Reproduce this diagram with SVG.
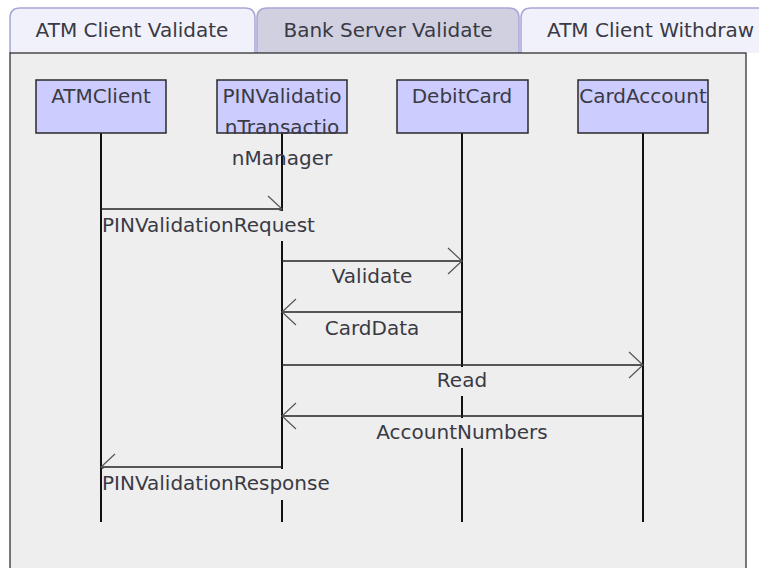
<svg xmlns="http://www.w3.org/2000/svg" width="759" height="568" viewBox="0 0 759 568">
<defs>
<style>
text{font-family:"DejaVu Sans",Verdana,sans-serif;font-size:20px;fill:#3a3a44}
.tab{stroke:#a6a6d6;stroke-width:1.5}
.box{fill:#ccccff;stroke:#2a2a2a;stroke-width:1.5}
.life{stroke:#111;stroke-width:2;fill:none}
.msg{stroke:#222;stroke-width:1.5;fill:none;marker-end:url(#arr)}
.lbg{fill:#eeeeee}
</style>
<marker id="arr" markerUnits="userSpaceOnUse" markerWidth="16" markerHeight="30" viewBox="-15 -15 16 30" refX="0" refY="0" orient="auto">
<path d="M-14,-13 L0,0 L-14,13" fill="none" stroke="#555" stroke-width="1.2"/>
</marker>
</defs>
<rect width="759" height="568" fill="#ffffff"/>
<g id="tabs">
<path class="tab" d="M10,53 V18 Q10,8 20,8 H245 Q255,8 255,18 V53" fill="#f1f1fb"/>
<path class="tab" d="M257,53 V18 Q257,8 267,8 H509 Q519,8 519,18 V53" fill="#d0d0e0"/>
<path class="tab" d="M521,53 V18 Q521,8 531,8 H770 V53" fill="#f1f1fb"/>
<text x="132" y="37" text-anchor="middle">ATM Client Validate</text>
<text x="388" y="37" text-anchor="middle">Bank Server Validate</text>
<text x="547" y="37">ATM Client Withdraw</text>
</g>
<rect id="panel" x="10" y="53" width="736" height="530" fill="#eeeeee" stroke="#222" stroke-width="1.2"/>
<g id="lifelines">
<line class="life" x1="101" y1="133" x2="101" y2="522"/>
<line class="life" x1="282" y1="133" x2="282" y2="522"/>
<line class="life" x1="462" y1="133" x2="462" y2="522"/>
<line class="life" x1="643" y1="133" x2="643" y2="522"/>
</g>
<g id="node-atmclient">
<rect class="box" x="36" y="80" width="130" height="53"/>
<text x="101" y="103" text-anchor="middle">ATMClient</text>
</g>
<g id="node-pinvalidation">
<rect class="box" x="217" y="80" width="130" height="53"/>
<text x="282" y="103" text-anchor="middle">PINValidatio</text>
<text x="282" y="134" text-anchor="middle">nTransactio</text>
<text x="282" y="165" text-anchor="middle">nManager</text>
</g>
<g id="node-debitcard">
<rect class="box" x="397" y="80" width="131" height="53"/>
<text x="462" y="103" text-anchor="middle">DebitCard</text>
</g>
<g id="node-cardaccount">
<rect class="box" x="578" y="80" width="130" height="53"/>
<text x="643" y="103" text-anchor="middle">CardAccount</text>
</g>
<g id="connectors">
<path class="msg" d="M101,209 H282"/>
<path class="msg" d="M282,261 H462"/>
<path class="msg" d="M462,312 H282"/>
<path class="msg" d="M282,365 H643"/>
<path class="msg" d="M643,416 H282"/>
<path class="msg" d="M282,467 H101"/>
</g>
<g id="labels">
<rect class="lbg" x="102" y="211" width="220" height="30"/>
<text x="102" y="232">PINValidationRequest</text>
<text x="372" y="283" text-anchor="middle">Validate</text>
<text x="372" y="335" text-anchor="middle">CardData</text>
<rect class="lbg" x="436" y="367" width="52" height="29"/>
<text x="462" y="387" text-anchor="middle">Read</text>
<rect class="lbg" x="376" y="418" width="174" height="30"/>
<text x="462" y="439" text-anchor="middle">AccountNumbers</text>
<rect class="lbg" x="102" y="469" width="236" height="31"/>
<text x="102" y="490">PINValidationResponse</text>
</g>
</svg>
